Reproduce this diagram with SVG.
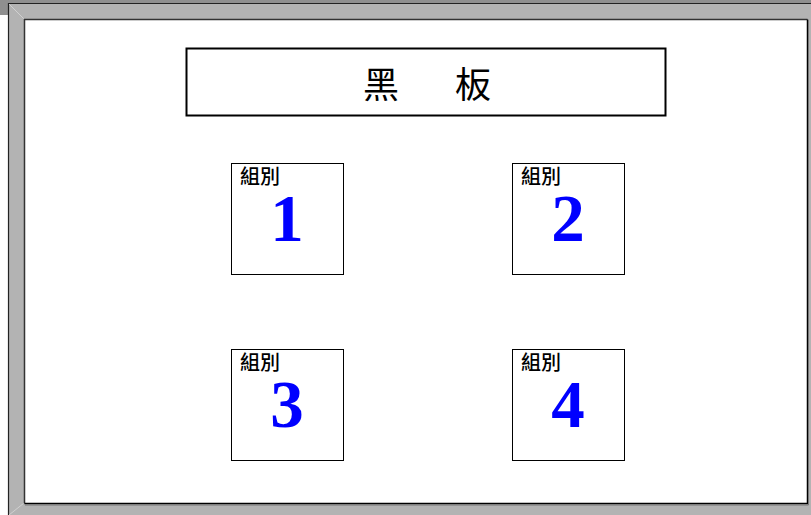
<svg xmlns="http://www.w3.org/2000/svg" width="811" height="515" viewBox="0 0 811 515">
<style>
.box{fill:#fff;stroke:#000;stroke-width:1}
.lbl{font-family:"Noto Sans CJK TC","Noto Sans CJK SC",sans-serif;font-size:20px;font-weight:500;fill:#000}
.num{font-family:"Liberation Serif","Times New Roman",serif;font-weight:bold;font-size:67px;fill:#0000ff;text-anchor:middle}
.title{font-family:"Noto Sans CJK TC","Noto Sans CJK SC",sans-serif;font-size:36px;fill:#000;text-anchor:middle}
</style>
<g id="frame">
<rect x="0" y="0" width="811" height="515" fill="#ffffff"/>
<rect x="0" y="0" width="811" height="4" fill="#8f8f8f"/>
<rect x="0" y="0" width="9" height="15" fill="#8f8f8f"/>
<rect x="9" y="4" width="802" height="511" fill="#b3b3b3"/>
<path d="M8.5 515 V3.5 H811" fill="none" stroke="#222" stroke-width="1.2"/>
<path d="M9 4 L24 19 M9 515 L24 503" stroke="#d0d0d0" stroke-width="1"/>
<rect x="24.5" y="19.5" width="783" height="484" fill="#ffffff"/>
<path d="M24.5 503.5 V19.5 H807.5" fill="none" stroke="#333" stroke-width="1.5"/>
<path d="M24.5 503.5 H807.5 V19.5" fill="none" stroke="#000" stroke-width="1.5"/>
<path d="M808.5 20 V505 H25" fill="none" stroke="#777" stroke-width="1"/>
</g>
<g id="blackboard">
<rect x="186.5" y="48.5" width="479" height="67" fill="#fff" stroke="#000" stroke-width="2"/>
<text class="title" x="381" y="98">黑</text>
<text class="title" x="473" y="98">板</text>
</g>
<g id="group1">
<rect class="box" x="231.5" y="163.5" width="112" height="111"/>
<text class="lbl" x="240" y="184">組別</text>
<text class="num" x="287" y="241">1</text>
</g>
<g id="group2">
<rect class="box" x="512.5" y="163.5" width="112" height="111"/>
<text class="lbl" x="521" y="184">組別</text>
<text class="num" x="568" y="241">2</text>
</g>
<g id="group3">
<rect class="box" x="231.5" y="349.5" width="112" height="111"/>
<text class="lbl" x="240" y="370">組別</text>
<text class="num" x="287" y="427">3</text>
</g>
<g id="group4">
<rect class="box" x="512.5" y="349.5" width="112" height="111"/>
<text class="lbl" x="521" y="370">組別</text>
<text class="num" x="568" y="427">4</text>
</g>
<g id="connectors"></g>
</svg>
